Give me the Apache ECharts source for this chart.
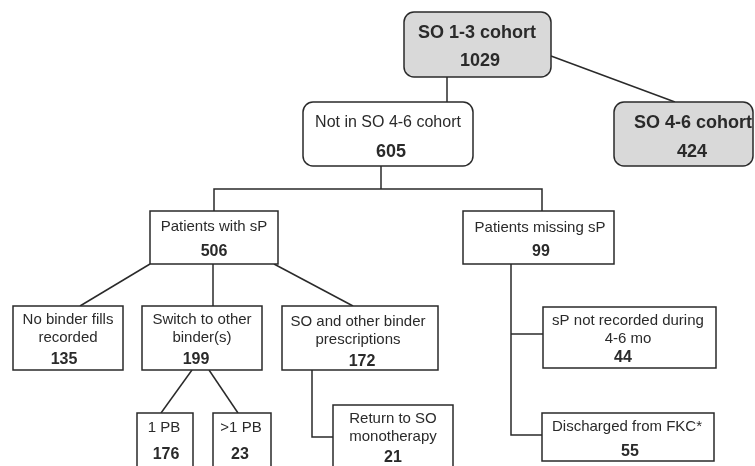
<!DOCTYPE html>
<html>
<head>
<meta charset="utf-8">
<script src="https://cdn.jsdelivr.net/npm/echarts@6/dist/echarts.min.js"></script>
<style>
  html, body { margin: 0; padding: 0; background: #fff; }
  #flow { width: 755px; height: 466px; }
</style>
</head>
<body>
<div id="flow"></div>
<script>
// flowchart content
const labels = [
  'SO 1-3 cohort', 'Not in SO 4-6 cohort', 'SO 4-6 cohort',
  'Patients with sP', 'Patients missing sP',
  'No binder fills\nrecorded', 'Switch to other\nbinder(s)', 'SO and other binder\nprescriptions',
  'sP not recorded during\n4-6 mo', '1 PB', '>1 PB', 'Return to SO\nmonotherapy', 'Discharged from FKC*'
];
const counts = [1029, 605, 424, 506, 99, 135, 199, 172, 44, 176, 23, 21, 55];

// layout (chart coordinates): box [x0, y0, x1, y1], label [x, y], count [x, y]
const boxes = [
  [404, 12, 551, 77], [303, 102, 473, 166], [614, 102, 753, 166],
  [150, 211, 278, 264], [463, 211, 614, 264],
  [13, 306, 123, 370], [142, 306, 262, 370], [282, 306, 438, 370],
  [543, 307, 716, 368], [137, 413, 193, 480], [213, 413, 271, 480], [333, 405, 453, 480],
  [542, 413, 714, 461]
];
const labelPos = [
  [477, 33], [388, 123], [693, 123],
  [214, 227], [540, 228],
  [68, 329], [202, 329], [358, 331],
  [628, 330], [164, 428], [241, 428], [393, 428], [627, 427]
];
const countPos = [
  [480, 61], [391, 152], [692, 152],
  [214, 252], [541, 252],
  [64, 360], [196, 360], [362, 362],
  [623, 358], [166, 455], [240, 455], [393, 458], [630, 452]
];
const rounded = [true, true, true];
const shaded = [true, false, true];
const boldLabel = [true, false, true];

const links = [
  [[447, 77], [447, 102]],
  [[551, 56], [675, 102]],
  [[381, 166], [381, 189]],
  [[214, 211], [214, 189], [542, 189], [542, 211]],
  [[150, 264], [80, 306]],
  [[213, 264], [213, 306]],
  [[274, 264], [353, 306]],
  [[192, 370], [161, 413]],
  [[209, 370], [238, 413]],
  [[312, 370], [312, 437], [333, 437]],
  [[511, 264], [511, 435], [542, 435]],
  [[511, 334], [543, 334]]
];

const FONT = '"Liberation Sans", Arial, sans-serif';
const INK = '#2a2a2a';

const chart = echarts.init(document.getElementById('flow'));

const option = {
  animation: false,
  grid: { left: 0, right: 0, top: 0, bottom: 0 },
  xAxis: { type: 'value', min: 0, max: 755, show: false },
  yAxis: { type: 'value', min: 0, max: 466, inverse: true, show: false },
  series: [
    {
      type: 'custom',
      z: 1,
      silent: true,
      data: links.map((l, i) => i),
      renderItem: function (params, api) {
        const pts = links[params.dataIndex].map(p => api.coord(p));
        return {
          type: 'polyline',
          shape: { points: pts },
          style: { stroke: INK, lineWidth: 1.5, fill: null }
        };
      }
    },
    {
      type: 'custom',
      z: 2,
      silent: true,
      data: counts.map((c, i) => i),
      renderItem: function (params, api) {
        const i = params.dataIndex;
        const b = boxes[i];
        const p0 = api.coord([b[0], b[1]]);
        const p1 = api.coord([b[2], b[3]]);
        const lp = api.coord(labelPos[i]);
        const cp = api.coord(countPos[i]);
        const top = i < 3;
        return {
          type: 'group',
          children: [
            {
              type: 'rect',
              shape: { x: p0[0], y: p0[1], width: p1[0] - p0[0], height: p1[1] - p0[1], r: rounded[i] ? 10 : 0 },
              style: { fill: shaded[i] ? '#d9d9d9' : '#fff', stroke: INK, lineWidth: 1.5 }
            },
            {
              type: 'text',
              style: {
                text: labels[i], x: lp[0], y: lp[1], align: 'center', verticalAlign: 'middle',
                font: (boldLabel[i] ? 'bold 18px ' : (top ? '16px ' : '15px ')) + FONT,
                lineHeight: 18, fill: INK
              }
            },
            {
              type: 'text',
              style: {
                text: String(counts[i]), x: cp[0], y: cp[1], align: 'center', verticalAlign: 'middle',
                font: (top ? 'bold 18px ' : 'bold 16px ') + FONT, fill: INK
              }
            }
          ]
        };
      }
    }
  ]
};

chart.setOption(option);
</script>
</body>
</html>
